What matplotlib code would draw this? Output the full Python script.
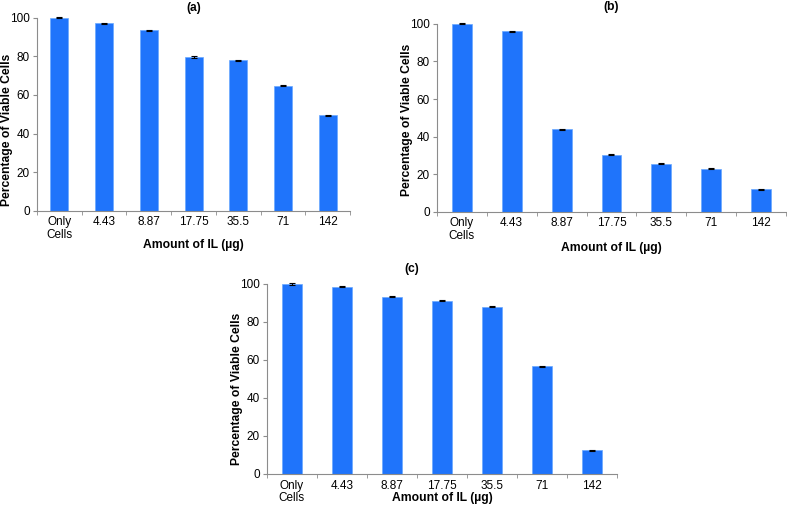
import numpy as np
import matplotlib
matplotlib.use("Agg")
import matplotlib.pyplot as plt

plt.rcParams['font.family'] = ['Liberation Sans', 'DejaVu Sans']

# ----------------------------------------
# Data
categories = ["Only\nCells", "4.43", "8.87", "17.75", "35.5", "71", "142"]
viable_a = [100, 97.1, 93.6, 79.7, 78.0, 64.8, 49.5]
viable_b = [100, 96.0, 44.0, 30.3, 25.5, 23.0, 12.0]
viable_c = [100, 98.5, 93.2, 91.2, 88.0, 56.7, 12.5]
err_a = [0.3, 0.3, 0.3, 0.3, 0.3, 0.3, 0.3]
err_b = [0.3, 0.3, 0.3, 0.3, 0.3, 0.3, 0.3]
err_c = [0.3, 0.3, 0.3, 0.3, 0.3, 0.3, 0.3]
titles = ["(a)", "(b)", "(c)"]

bar_color = "#1f74fb"
axis_color = "#8c8c8c"

fig = plt.figure(figsize=(7.87, 5.08), dpi=100)

# axes positions (left, bottom, width, height) in figure fractions
positions = [
    [0.047, 0.585, 0.398, 0.380],
    [0.555, 0.583, 0.444, 0.370],
    [0.339, 0.067, 0.445, 0.374],
]
# label / title placement per panel (axes fractions)
xlabel_y = [-0.176, -0.191, -0.126]
ylabel_xy = [(-0.096, 0.42), (-0.086, 0.49), (-0.086, 0.447)]
title_xy = [(0.5, 1.052), (0.5, 1.09), (0.414, 1.079)]

for i, (vals, errs) in enumerate(zip([viable_a, viable_b, viable_c], [err_a, err_b, err_c])):
    ax = fig.add_axes(positions[i])
    x = np.arange(len(categories))
    ax.bar(x, vals, width=0.4, color=bar_color, edgecolor="#6aa8ff", linewidth=0.5,
           yerr=errs, capsize=2.5,
           error_kw=dict(elinewidth=0.8, capthick=0.8, ecolor="black", clip_on=False))
    ax.set_xlim(-0.5, len(categories) - 0.5)
    ax.set_ylim(0, 100)
    ax.set_yticks([0, 20, 40, 60, 80, 100])
    ax.set_xticks(x)
    ax.set_xticklabels(categories, fontsize=8.5, linespacing=1.05)
    ax.tick_params(axis='x', length=0, pad=4)
    # category boundary ticks
    ax.set_xticks(np.arange(len(categories) + 1) - 0.5, minor=True)
    ax.tick_params(axis='x', which='minor', length=3, color=axis_color, direction='out')
    ax.tick_params(axis='y', labelsize=8.5, length=3, color=axis_color, pad=2)
    for side in ['top', 'right']:
        ax.spines[side].set_visible(False)
    for side in ['left', 'bottom']:
        ax.spines[side].set_color(axis_color)
        ax.spines[side].set_linewidth(0.8)

    ax.set_ylabel("Percentage of Viable Cells", fontsize=8.7, fontweight='bold')
    ax.yaxis.set_label_coords(*ylabel_xy[i])
    ax.yaxis.label.set_va('center')
    ax.set_xlabel("Amount of IL (µg)", fontsize=8.7, fontweight='bold')
    ax.xaxis.set_label_coords(0.5, xlabel_y[i])
    ax.xaxis.label.set_va('center')
    ax.text(title_xy[i][0], title_xy[i][1], titles[i], transform=ax.transAxes,
            ha='center', va='center', fontsize=8.7, fontweight='bold')

fig.savefig("out.png", dpi=100)
